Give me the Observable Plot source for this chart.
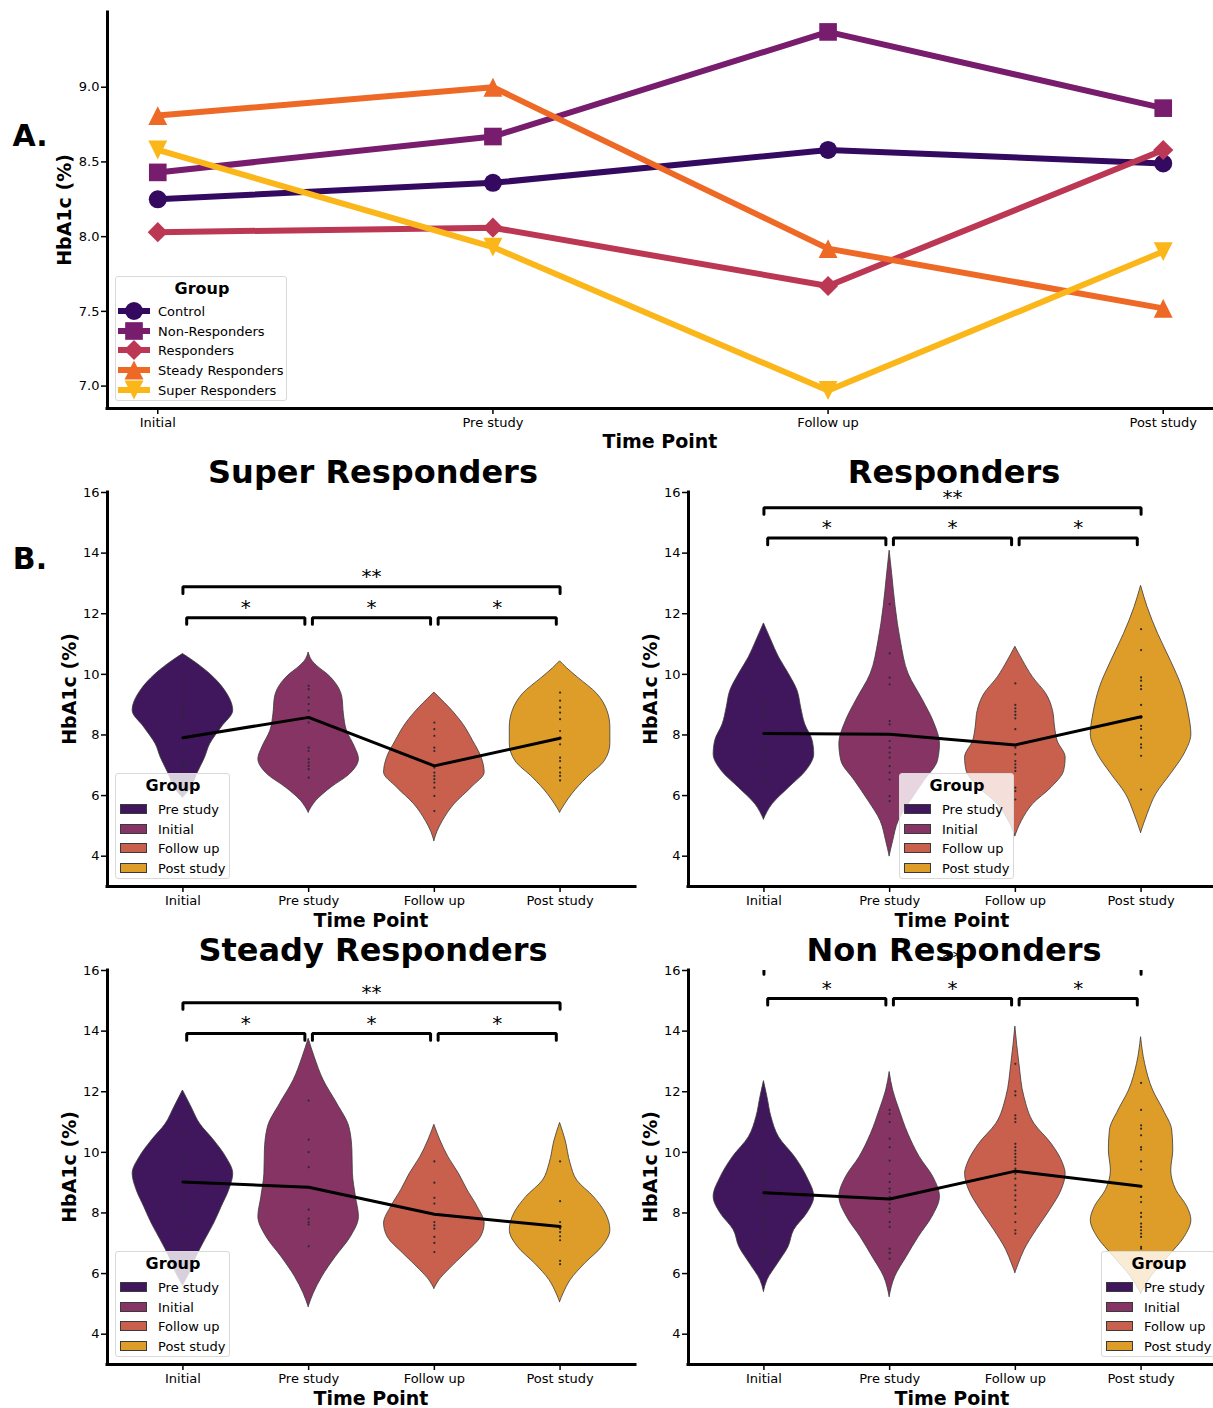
<!DOCTYPE html>
<html>
<head>
<meta charset="utf-8">
<script src="https://cdn.jsdelivr.net/npm/d3@7"></script>
<script src="https://cdn.jsdelivr.net/npm/@observablehq/plot@0.6"></script>
<style>
  html, body { margin: 0; padding: 0; background: #fff; overflow: hidden; }
  #root { position: relative; width: 1213px; height: 1408px; overflow: hidden; background: #fff;
          font-family: "DejaVu Sans", sans-serif; color: #000; }
  .lg { position: absolute; box-sizing: border-box; background: rgba(255,255,255,0.8);
        border: 1px solid #d9d9d9; border-radius: 3px; }
  .t { position: absolute; line-height: 1; white-space: nowrap; }
</style>
</head>
<body>
<div id="root"></div>
<script>
// ---------------- data ----------------
const timePoints = ["Initial", "Pre study", "Follow up", "Post study"];

// Panel A: group means
const groupNames = ["Control", "Non-Responders", "Responders", "Steady Responders", "Super Responders"];
const controlA  = [8.25, 8.36, 8.58, 8.49];
const nonRespA  = [8.43, 8.67, 9.37, 8.86];
const respA     = [8.03, 8.06, 7.67, 8.58];
const steadyA   = [8.81, 9.00, 7.92, 7.52];
const superA    = [8.58, 7.93, 6.97, 7.90];
const yTicksA   = [7.0, 7.5, 8.0, 8.5, 9.0];

// Panel B: violin legend labels (as printed)
const legendLabelsB = ["Pre study", "Initial", "Follow up", "Post study"];
const yTicksB = [4, 6, 8, 10, 12, 14, 16];
const bracketPairs = [[0, 1], [1, 2], [2, 3], [0, 3]];
const bracketStars = ["*", "*", "*", "**"];

// Super Responders
const superMeans = [7.91, 8.58, 6.98, 7.89];
const superBrackets = [11.87, 12.89];
const superLevels = [
  [5.93, 6.26, 6.70, 7.25, 7.69, 8.25, 8.80, 9.46, 10.01, 10.45, 10.67],
  [5.44, 5.82, 6.26, 6.70, 7.20, 7.60, 8.14, 8.69, 9.24, 9.79, 10.01, 10.23, 10.45, 10.72],
  [4.50, 4.80, 5.16, 5.71, 6.26, 6.76, 7.25, 7.80, 8.36, 8.90, 9.20, 9.40],
  [5.44, 5.71, 6.04, 6.59, 7.14, 7.70, 8.25, 8.80, 9.35, 9.90, 10.20, 10.43]
];
const superWidths = [
  [0, 0.17, 0.28, 0.44, 0.54, 0.77, 1.0, 0.84, 0.54, 0.2, 0],
  [0, 0.15, 0.45, 0.82, 1.0, 0.92, 0.76, 0.70, 0.67, 0.5, 0.37, 0.2, 0.07, 0],
  [0, 0.06, 0.17, 0.40, 0.74, 1.0, 0.94, 0.77, 0.57, 0.30, 0.12, 0],
  [0, 0.10, 0.24, 0.54, 0.89, 1.0, 1.0, 0.94, 0.74, 0.35, 0.14, 0]
];
const superPoints = [
  [9.70, 9.35, 9.02, 8.85, 8.69, 8.52, 8.22, 7.50, 7.09, 6.98],
  [9.62, 9.51, 9.24, 9.02, 8.80, 8.55, 8.41, 7.58, 7.47, 7.20, 7.09, 6.98, 6.87, 6.59],
  [8.41, 8.19, 7.97, 7.58, 7.47, 6.92, 6.76, 6.65, 6.54, 6.43, 6.26, 5.99, 5.49],
  [9.40, 9.13, 8.91, 8.74, 8.52, 8.13, 7.91, 7.69, 7.25, 7.14, 6.92, 6.76, 6.65, 6.50]
];

// Responders
const respMeans = [8.05, 8.02, 7.67, 8.60];
const respBrackets = [14.5, 15.5];
const respLevels = [
  [5.21, 5.71, 6.26, 6.81, 7.36, 7.80, 8.35, 8.90, 9.45, 10.0, 10.56, 11.11, 11.68],
  [4.0, 4.5, 5.16, 5.82, 6.48, 7.14, 7.69, 8.46, 9.12, 10.0, 11.11, 12.21, 13.31, 14.08],
  [4.66, 5.16, 5.71, 6.26, 6.81, 7.25, 7.80, 8.24, 8.79, 9.34, 9.90, 10.45, 10.91],
  [4.77, 5.38, 6.04, 6.70, 7.36, 8.02, 8.68, 9.56, 10.45, 11.33, 12.21, 12.92]
];
const respWidths = [
  [0, 0.17, 0.5, 0.84, 1.0, 0.97, 0.82, 0.74, 0.67, 0.5, 0.3, 0.15, 0],
  [0, 0.07, 0.18, 0.42, 0.69, 0.96, 1.0, 0.87, 0.67, 0.38, 0.22, 0.12, 0.05, 0],
  [0, 0.13, 0.35, 0.72, 0.97, 1.0, 0.84, 0.79, 0.75, 0.62, 0.35, 0.15, 0],
  [0, 0.13, 0.30, 0.59, 0.86, 1.0, 0.95, 0.82, 0.59, 0.34, 0.13, 0]
];
const respPoints = [
  [10.39, 9.81, 9.07, 8.96, 8.68, 8.57, 8.02, 7.69, 7.47, 7.20, 6.97, 6.59, 6.48],
  [12.32, 10.69, 9.89, 9.67, 8.46, 8.35, 8.02, 7.80, 7.58, 7.42, 7.25, 6.97, 6.76, 6.53, 5.98, 5.82],
  [9.70, 8.99, 8.88, 8.77, 8.66, 8.55, 8.19, 7.58, 7.36, 7.14, 7.03, 6.92, 6.81, 6.26, 6.15, 5.87],
  [11.49, 10.80, 9.90, 9.79, 9.62, 9.51, 8.99, 8.57, 8.30, 8.19, 7.91, 7.69, 7.58, 7.31, 6.20]
];

// Steady Responders
const steadyMeans = [9.02, 8.85, 7.96, 7.55];
const steadyBrackets = [13.92, 14.94];
const steadyLevels = [
  [5.6, 6.0, 6.55, 7.10, 7.65, 8.20, 8.75, 9.29, 9.84, 10.39, 10.94, 11.49, 12.04],
  [4.9, 5.34, 5.89, 6.55, 7.21, 7.87, 8.53, 9.29, 10.06, 10.83, 11.60, 12.37, 13.14, 13.75],
  [5.5, 5.78, 6.11, 6.66, 7.21, 7.65, 8.20, 8.75, 9.29, 9.84, 10.39, 10.91],
  [5.06, 5.34, 5.78, 6.33, 6.88, 7.43, 7.98, 8.53, 9.07, 9.62, 10.39, 10.97]
];
const steadyWidths = [
  [0, 0.13, 0.27, 0.44, 0.62, 0.77, 0.92, 1.0, 0.86, 0.62, 0.34, 0.17, 0],
  [0, 0.10, 0.27, 0.54, 0.84, 1.0, 0.94, 0.88, 0.87, 0.81, 0.57, 0.30, 0.12, 0],
  [0, 0.10, 0.28, 0.62, 0.93, 1.0, 0.86, 0.66, 0.49, 0.28, 0.12, 0],
  [0, 0.07, 0.21, 0.50, 0.84, 1.0, 0.91, 0.67, 0.34, 0.21, 0.11, 0]
];
const steadyPoints = [
  [10.61, 9.81, 9.51, 9.21, 8.80, 8.31, 8.01, 7.50, 6.90],
  [11.71, 10.42, 10.01, 9.51, 8.11, 7.81, 7.70, 7.62, 6.90],
  [9.70, 9.00, 8.50, 8.31, 7.70, 7.59, 7.48, 7.21, 7.01, 6.71],
  [9.70, 8.39, 7.70, 7.48, 7.37, 7.23, 7.10, 6.42, 6.31]
];

// Non Responders
const nonMeans = [8.67, 8.46, 9.38, 8.88];
const nonBrackets = [15.08, 16.1];
const nonLevels = [
  [5.4, 5.78, 6.33, 6.88, 7.43, 7.98, 8.53, 9.18, 9.84, 10.5, 11.16, 11.82, 12.35],
  [5.23, 5.89, 6.55, 7.21, 7.87, 8.53, 9.18, 9.84, 10.61, 11.38, 12.04, 12.65],
  [6.02, 6.33, 6.77, 7.43, 8.09, 8.75, 9.29, 9.62, 10.28, 10.94, 11.82, 12.92, 14.15],
  [5.34, 5.89, 6.55, 7.21, 7.76, 8.20, 8.75, 9.40, 10.06, 10.72, 11.38, 12.04, 12.92, 13.8]
];
const nonWidths = [
  [0, 0.07, 0.28, 0.49, 0.6, 0.86, 1.0, 0.86, 0.62, 0.3, 0.15, 0.07, 0],
  [0, 0.11, 0.34, 0.58, 0.85, 1.0, 0.87, 0.6, 0.37, 0.2, 0.07, 0],
  [0, 0.07, 0.18, 0.42, 0.69, 0.92, 1.0, 0.95, 0.72, 0.38, 0.18, 0.08, 0],
  [0, 0.2, 0.54, 0.87, 1.0, 0.92, 0.7, 0.6, 0.64, 0.62, 0.45, 0.24, 0.08, 0]
];
const nonPoints = [
  [11.22, 10.89, 10.20, 9.70, 9.40, 9.29, 9.18, 9.07, 8.97, 8.75, 8.53, 8.42, 8.31, 8.09, 7.87, 7.70, 7.54, 7.26, 6.82, 6.66, 6.49],
  [11.40, 11.27, 11.00, 10.45, 10.17, 9.73, 9.29, 9.02, 8.80, 8.69, 8.53, 8.31, 8.14, 8.03, 7.70, 7.54, 6.82, 6.68, 6.49],
  [12.92, 12.01, 11.88, 11.22, 11.11, 11.00, 10.28, 10.17, 10.06, 9.95, 9.84, 9.73, 9.62, 9.46, 9.29, 9.13, 8.91, 8.75, 8.58, 8.42, 8.20, 7.98, 7.70, 7.43, 7.32],
  [12.29, 11.40, 10.89, 10.78, 10.56, 10.17, 10.09, 9.70, 9.43, 8.88, 8.53, 8.36, 8.00, 7.87, 7.65, 7.54, 7.43, 7.32, 7.21, 6.88, 6.82]
];

// ---------------- styles ----------------
const groupColors = ["#330a5f", "#781c6d", "#bc3754", "#ed6925", "#fbb61a"];
const violinColors = ["#40165c", "#853464", "#c9604e", "#de9d28"];
const FONT = "DejaVu Sans";

// custom marker symbols (size = r*r*PI)
const rOf = s => Math.sqrt(s / Math.PI);
const symbols = [
  { draw(c, s) { const r = rOf(s); c.moveTo(r, 0); c.arc(0, 0, r, 0, 2 * Math.PI); c.closePath(); } },
  { draw(c, s) { const r = rOf(s) * 0.98; c.moveTo(-r, -r); c.lineTo(r, -r); c.lineTo(r, r); c.lineTo(-r, r); c.closePath(); } },
  { draw(c, s) { const r = rOf(s) * 1.12; c.moveTo(0, -r); c.lineTo(r, 0); c.lineTo(0, r); c.lineTo(-r, 0); c.closePath(); } },
  { draw(c, s) { const r = rOf(s) * 1.05; c.moveTo(0, -r); c.lineTo(r, r); c.lineTo(-r, r); c.closePath(); } },
  { draw(c, s) { const r = rOf(s) * 1.05; c.moveTo(0, r); c.lineTo(r, -r); c.lineTo(-r, -r); c.closePath(); } }
];
const MARKER_R = 9;

const root = document.getElementById("root");
function addSvg(svg, left, top) {
  svg.style.position = "absolute";
  svg.style.left = left + "px";
  svg.style.top = top + "px";
  root.appendChild(svg);
}
function addText(txt, cx, cy, size, bold, rotate) {
  const d = document.createElement("div");
  d.className = "t";
  d.textContent = txt;
  d.style.left = cx + "px";
  d.style.top = cy + "px";
  d.style.fontSize = size + "px";
  d.style.fontWeight = bold ? "bold" : "normal";
  d.style.transform = "translate(-50%,-50%)" + (rotate ? " rotate(-90deg)" : "");
  root.appendChild(d);
  return d;
}
const plotStyle = { fontFamily: FONT, fontSize: "13px", background: "transparent", color: "#000", overflow: "visible" };

// ---------------- Panel A ----------------
(function panelA() {
  const series = [controlA, nonRespA, respA, steadyA, superA];
  const xDom = [-0.15, timePoints.length - 1 + 0.15];
  const yDom = [6.85, 9.5];
  const marks = [];
  series.forEach((vals, g) => {
    const rows = vals.map((v, i) => ({ i, v }));
    marks.push(Plot.line(rows, { x: "i", y: "v", stroke: groupColors[g], strokeWidth: 6, strokeLinejoin: "round" }));
    marks.push(Plot.dot(rows, { x: "i", y: "v", r: MARKER_R, symbol: symbols[g], fill: groupColors[g], stroke: "none" }));
  });
  const svg = Plot.plot({
    width: 1213, height: 460,
    marginLeft: 107, marginRight: 0, marginTop: 12, marginBottom: 52,
    x: { domain: xDom }, y: { domain: yDom },
    style: plotStyle,
    marks: [
      ...marks,
      Plot.axisY({ ticks: yTicksA, tickFormat: d3.format(".1f"), tickSize: 6, tickPadding: 2, fontSize: 13, strokeWidth: 1.5, label: null }),
      Plot.axisX({ ticks: timePoints.map((_, i) => i), tickFormat: i => timePoints[i], tickSize: 6, tickPadding: 3, fontSize: 13, strokeWidth: 1.5, label: null }),
      Plot.ruleX([xDom[0]], { strokeWidth: 3, strokeLinecap: "square" }),
      Plot.ruleY([yDom[0]], { strokeWidth: 3, strokeLinecap: "square" })
    ]
  });
  addSvg(svg, 0, 0);
  addText("HbA1c (%)", 64, 210, 19, true, true);
  addText("Time Point", 660, 441, 19, true, false);
  addText("A.", 30, 136, 30, true, false);

  // legend
  const box = document.createElement("div");
  box.className = "lg";
  Object.assign(box.style, { left: "115px", top: "276px", width: "172px", height: "125px" });
  root.appendChild(box);
  const title = document.createElement("div");
  title.className = "t";
  Object.assign(title.style, { left: "86px", top: "12px", fontSize: "16px", fontWeight: "bold", transform: "translate(-50%,-50%)" });
  title.textContent = "Group";
  box.appendChild(title);
  groupNames.forEach((name, g) => {
    const cy = 34 + g * 19.7;
    const p = d3.path();
    symbols[g].draw(p, MARKER_R * MARKER_R * Math.PI);
    const s = document.createElementNS("http://www.w3.org/2000/svg", "svg");
    s.setAttribute("width", 40); s.setAttribute("height", 24);
    Object.assign(s.style, { position: "absolute", left: "0px", top: (cy - 12) + "px", overflow: "visible" });
    s.innerHTML = `<line x1="2" x2="34" y1="12" y2="12" stroke="${groupColors[g]}" stroke-width="6"/>` +
      `<path d="${p.toString()}" transform="translate(18,12)" fill="${groupColors[g]}"/>`;
    box.appendChild(s);
    const t = document.createElement("div");
    t.className = "t";
    Object.assign(t.style, { left: "42px", top: cy + "px", fontSize: "13px", transform: "translate(0,-50%)" });
    t.textContent = name;
    box.appendChild(t);
  });
})();

// ---------------- Panel B ----------------
function violinPanel(cfg) {
  const { left, top, levels, widths, points, means, brackets, title, legendLeft } = cfg;
  const xDom = [-0.6, timePoints.length - 1 + 0.6];
  const yDom = [3, 16];
  const halfW = 0.4;
  const drop = 0.22;
  const marks = [];
  levels.forEach((lv, i) => {
    const rows = lv.map((v, k) => ({ i, v, w: widths[i][k] }));
    marks.push(Plot.areaX(rows, {
      y: "v", x1: d => d.i - halfW * d.w, x2: d => d.i + halfW * d.w,
      fill: violinColors[i], stroke: "#3a3a3a", strokeWidth: 0.8, curve: "monotone-y"
    }));
  });
  points.forEach((pts, i) => {
    marks.push(Plot.dot(pts.map(v => ({ i, v })), { x: "i", y: "v", r: 1.1, fill: "#2b2b2b", stroke: "none" }));
  });
  marks.push(Plot.line(means.map((m, i) => ({ i, m })), { x: "i", y: "m", stroke: "#000", strokeWidth: 3 }));
  const bRows = [], tRows = [];
  bracketPairs.forEach(([a, b], k) => {
    const wide = b - a > 1;
    const h = wide ? brackets[1] : brackets[0];
    const inset = wide ? 0 : 0.03;
    const xa = a + inset, xb = b - inset;
    bRows.push({ k, x: xa, y: h - drop }, { k, x: xa, y: h }, { k, x: xb, y: h }, { k, x: xb, y: h - drop });
    tRows.push({ x: (a + b) / 2, y: h + 0.33, s: bracketStars[k] });
  });
  marks.push(Plot.line(bRows, { x: "x", y: "y", z: "k", stroke: "#000", strokeWidth: 3, strokeLinejoin: "miter", clip: true }));
  marks.push(Plot.text(tRows, { x: "x", y: "y", text: "s", fontSize: 20, fill: "#000", lineAnchor: "middle" }));
  const svg = Plot.plot({
    width: 640, height: 476,
    marginLeft: 107, marginRight: 5, marginTop: 52, marginBottom: 30,
    x: { domain: xDom }, y: { domain: yDom },
    style: plotStyle,
    marks: [
      ...marks,
      Plot.axisY({ ticks: yTicksB, tickSize: 6, tickPadding: 2, fontSize: 13, strokeWidth: 1.5, label: null }),
      Plot.axisX({ ticks: timePoints.map((_, i) => i), tickFormat: i => timePoints[i], tickSize: 6, tickPadding: 3, fontSize: 13, strokeWidth: 1.5, label: null }),
      Plot.ruleX([xDom[0]], { strokeWidth: 3, strokeLinecap: "square" }),
      Plot.ruleY([yDom[0]], { strokeWidth: 3, strokeLinecap: "square" })
    ]
  });
  addSvg(svg, left, top);
  const axisLeft = left + 107, axisRight = left + 635;
  const cx = (axisLeft + axisRight) / 2;
  addText(title, cx + 2, top + 32, 32, true, false);
  addText("HbA1c (%)", left + 69, top + 249, 19, true, true);
  addText("Time Point", cx, top + 480, 19, true, false);

  // legend
  const lt = top + 333;
  const box = document.createElement("div");
  box.className = "lg";
  Object.assign(box.style, { left: legendLeft + "px", top: lt + "px", width: "115px", height: "106px" });
  root.appendChild(box);
  const tt = document.createElement("div");
  tt.className = "t";
  Object.assign(tt.style, { left: "57px", top: "12px", fontSize: "16px", fontWeight: "bold", transform: "translate(-50%,-50%)" });
  tt.textContent = "Group";
  box.appendChild(tt);
  legendLabelsB.forEach((lab, k) => {
    const cy = 35 + k * 19.7;
    const sw = document.createElement("div");
    Object.assign(sw.style, { position: "absolute", left: "4px", top: (cy - 5) + "px", width: "27px", height: "10px",
      boxSizing: "border-box", background: violinColors[k], border: "0.8px solid #3a3a3a" });
    box.appendChild(sw);
    const t = document.createElement("div");
    t.className = "t";
    Object.assign(t.style, { left: "42px", top: cy + "px", fontSize: "13px", transform: "translate(0,-50%)" });
    t.textContent = lab;
    box.appendChild(t);
  });
}

violinPanel({ left: 0, top: 440, levels: superLevels, widths: superWidths, points: superPoints, means: superMeans, brackets: superBrackets, title: "Super Responders", legendLeft: 115 });
violinPanel({ left: 581, top: 440, levels: respLevels, widths: respWidths, points: respPoints, means: respMeans, brackets: respBrackets, title: "Responders", legendLeft: 899 });
violinPanel({ left: 0, top: 918, levels: steadyLevels, widths: steadyWidths, points: steadyPoints, means: steadyMeans, brackets: steadyBrackets, title: "Steady Responders", legendLeft: 115 });
violinPanel({ left: 581, top: 918, levels: nonLevels, widths: nonWidths, points: nonPoints, means: nonMeans, brackets: nonBrackets, title: "Non Responders", legendLeft: 1101 });

addText("B.", 30, 559, 30, true, false);
</script>
</body>
</html>
